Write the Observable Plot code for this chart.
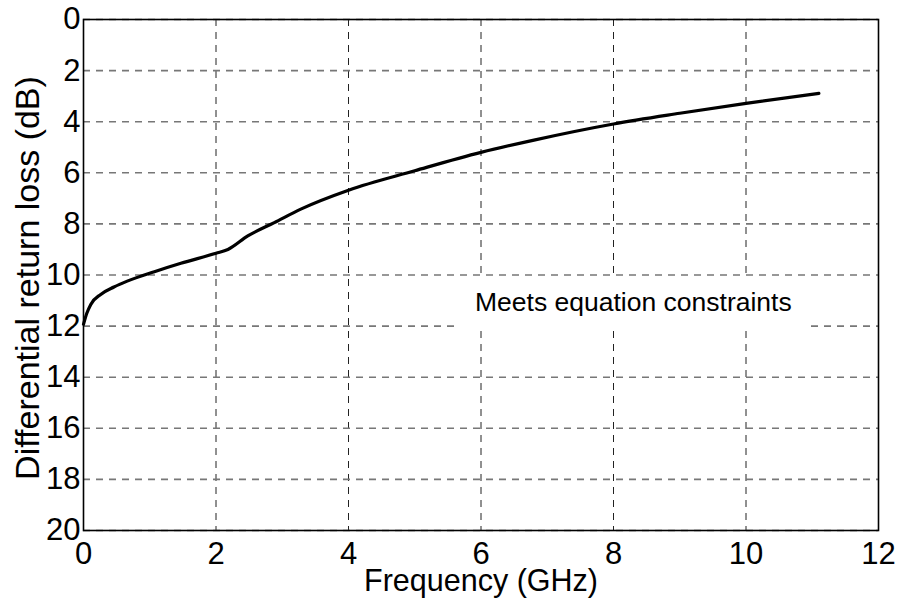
<!DOCTYPE html>
<html>
<head>
<meta charset="utf-8">
<script src="https://cdn.jsdelivr.net/npm/d3@7"></script>
<script src="https://cdn.jsdelivr.net/npm/@observablehq/plot@0.6"></script>
<style>
  html, body { margin: 0; padding: 0; background: #fff; }
  #chart svg { display: block; }
</style>
</head>
<body>
<div id="chart"></div>
<script>
// Frequency (GHz) and differential return loss (dB)
const freq = [0, 0.05, 0.11, 0.26, 0.46, 0.66, 1.07, 1.47, 2.0, 2.18, 2.48, 2.88, 3.28, 4, 5, 6, 6.8, 8, 9, 10, 11.1];
const loss = [11.93, 11.5, 11.15, 10.76, 10.47, 10.24, 9.87, 9.54, 9.15, 9.0, 8.47, 7.95, 7.42, 6.68, 5.92, 5.2, 4.72, 4.09, 3.67, 3.28, 2.89];

const xTicks = [0, 2, 4, 6, 8, 10, 12];
const yTicks = [0, 2, 4, 6, 8, 10, 12, 14, 16, 18, 20];

const xLabel = "Frequency (GHz)";
const yLabel = "Differential return loss (dB)";

const annotationText = ["Meets equation constraints"];
const annotationX = [8.3];
const annotationY = [11.08];

const data = freq.map((f, i) => ({f, db: loss[i]}));
const notes = annotationText.map((t, i) => ({text: t, x: annotationX[i], y: annotationY[i]}));

const font = "'Liberation Sans', Arial, Helvetica, sans-serif";
const dash = "7,6";

const chart = Plot.plot({
  width: 898,
  height: 605,
  marginLeft: 83,
  marginRight: 20,
  marginTop: 19,
  marginBottom: 75,
  style: {fontFamily: font, background: "#fff", color: "#000"},
  x: {domain: [0, 12]},
  y: {domain: [0, 20], reverse: true},
  marks: [
    Plot.gridX(xTicks, {stroke: "#222", strokeOpacity: 1, strokeWidth: 1, strokeDasharray: dash}),
    Plot.gridY(yTicks, {stroke: "#777", strokeOpacity: 1, strokeWidth: 1.6, strokeDasharray: dash}),
    Plot.rect(notes, {x1: d => d.x - 2.61, x2: d => d.x + 2.61, y1: d => d.y - 0.98, y2: d => d.y + 1.02, fill: "#fff"}),
    Plot.text(notes, {x: "x", y: "y", text: "text", fontSize: 26.5, fill: "#000"}),
    Plot.axisX(xTicks, {tickSize: 0, tickPadding: 11, fontSize: 31, label: null}),
    Plot.axisY(yTicks, {tickSize: 0, tickPadding: 3, fontSize: 31, label: null}),
    Plot.text([xLabel], {frameAnchor: "bottom", lineAnchor: "middle", textAnchor: "middle", dy: 51, fontSize: 30.5, fill: "#000"}),
    Plot.text([yLabel], {frameAnchor: "left", lineAnchor: "middle", textAnchor: "middle", dx: -55, dy: 3, rotate: -90, fontSize: 34, fill: "#000"}),
    Plot.line(data, {x: "f", y: "db", stroke: "#000", strokeWidth: 3.2, curve: "monotone-x"}),
    Plot.frame({stroke: "#000", strokeWidth: 1.6})
  ]
});

document.getElementById("chart").appendChild(chart);
</script>
</body>
</html>
